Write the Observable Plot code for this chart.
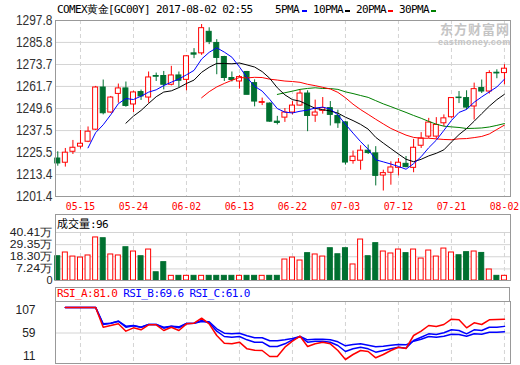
<!DOCTYPE html>
<html><head><meta charset="utf-8">
<script src="https://cdn.jsdelivr.net/npm/d3@7"></script>
<script src="https://cdn.jsdelivr.net/npm/@observablehq/plot@0.6"></script>
<style>
html,body{margin:0;padding:0;background:#fff;}
#wrap{position:relative;width:520px;height:365px;overflow:hidden;background:#fff;}
#wrap > svg{position:absolute;left:0;top:0;}
.t{position:absolute;white-space:nowrap;font-family:"DejaVu Sans Mono",monospace;font-size:11px;letter-spacing:-0.6px;line-height:12px;color:#000;}
.sw{position:absolute;width:5px;height:2px;}
.wm{position:absolute;white-space:nowrap;color:#c4c4c4;font-weight:bold;}
#pmain g[aria-label="y-axis tick label"] text{font-family:"Liberation Sans",sans-serif;font-size:14px;}
#pmain g[aria-label="x-axis tick label"] text{font-family:"DejaVu Sans Mono",monospace;font-size:10.5px;}
#pvol g[aria-label="y-axis tick label"] text{font-family:"Liberation Sans",sans-serif;font-size:11px;}
#prsi g[aria-label="y-axis tick label"] text{font-family:"Liberation Sans",sans-serif;font-size:12px;}
</style></head>
<body><div id="wrap">
<div class="t" style="left:57px;top:4px;">COMEX黄金[GC00Y] 2017-08-02 02:55</div>
<div class="t" style="left:275px;top:4px;">5PMA</div><div class="sw" style="left:302px;top:10px;background:#0000ff"></div>
<div class="t" style="left:313px;top:4px;">10PMA</div><div class="sw" style="left:345px;top:10px;background:#000"></div>
<div class="t" style="left:356px;top:4px;">20PMA</div><div class="sw" style="left:388px;top:10px;background:#ff0000"></div>
<div class="t" style="left:399px;top:4px;">30PMA</div><div class="sw" style="left:431px;top:10px;background:#008000"></div>
<div class="wm" style="left:440px;top:22px;font-size:13px;letter-spacing:1px;font-family:'Noto Sans CJK SC',sans-serif;line-height:14px;">东方财富网</div>
<div class="wm" style="left:438px;top:38px;font-size:9px;font-family:'Liberation Sans',sans-serif;letter-spacing:0.4px;line-height:9px;">eastmoney.com</div>
<div class="t" style="left:57px;top:217px;"><span style="font-family:'Noto Sans CJK SC',sans-serif;font-size:11px;letter-spacing:0;">成交量</span>:96</div>
<div style="position:absolute;left:55px;top:287px;width:455px;height:14px;box-sizing:border-box;border:1px solid #999;border-bottom:none;"></div>
<div class="t" style="left:57px;top:288px;"><span style="color:#ff0000">RSI_A:81.0</span> <span style="color:#0000ff">RSI_B:69.6</span> <span style="color:#0000ff">RSI_C:61.0</span></div>
</div>
<script>
// ---- data ----
const tickIndex = [3, 10, 17, 24, 31, 38, 45, 52, 59];
const tickLabels = ["05-15","05-24","06-02","06-13","06-22","07-03","07-12","07-21","08-02"];
const priceTicks = [1297.8, 1285.8, 1273.7, 1261.7, 1249.6, 1237.5, 1225.5, 1213.4, 1201.4];
const volTicks = [40.41, 29.35, 18.30, 7.24];
const rsiTicks = [107, 59, 11];

const open = [1222.2,1219.9,1225.9,1228.7,1231.4,1238.0,1261.1,1247.4,1257.6,1260.6,
1251.8,1258.6,1255.6,1267.4,1267.4,1262.6,1267.7,1265.3,1279.8,1279.8,
1291.6,1285.5,1277.8,1266.3,1264.4,1269.6,1263.5,1252.7,1252.3,1242.4,
1244.6,1247.4,1251.2,1257.8,1245.7,1248.3,1249.8,1245.5,1242.0,1220.8,
1221.0,1226.5,1225.0,1212.9,1214.4,1217.1,1219.3,1217.1,1229.2,1234.2,
1234.2,1241.5,1244.8,1255.6,1255.3,1250.7,1260.8,1258.9,1269.2,1269.0];
const high = [1225.9,1227.7,1232.1,1237.6,1239.5,1261.7,1265.2,1256.2,1263.0,1264.1,
1259.1,1259.7,1269.6,1269.0,1269.9,1272.7,1269.6,1278.5,1282.4,1295.6,
1293.8,1287.3,1278.2,1269.6,1267.7,1269.9,1265.3,1255.3,1252.7,1245.3,
1249.6,1253.4,1259.7,1259.3,1254.2,1255.6,1253.4,1248.7,1242.4,1226.3,
1229.2,1229.6,1228.7,1215.8,1220.4,1222.2,1223.3,1232.7,1236.4,1244.2,
1244.6,1246.1,1255.6,1258.9,1259.3,1263.5,1265.2,1270.3,1270.8,1273.6];
const low = [1218.0,1217.5,1224.4,1227.4,1230.9,1237.6,1246.1,1247.0,1252.5,1250.3,
1247.4,1254.0,1252.5,1264.4,1259.8,1262.0,1261.1,1259.3,1276.9,1278.7,
1284.6,1268.1,1264.4,1264.1,1260.2,1257.1,1250.5,1251.2,1242.0,1240.6,
1242.0,1246.1,1250.9,1236.9,1242.0,1246.5,1240.0,1238.7,1218.6,1219.1,
1215.8,1224.4,1207.2,1204.4,1207.6,1212.7,1217.1,1214.4,1227.7,1233.2,
1232.9,1239.7,1244.2,1252.3,1248.8,1243.3,1257.8,1257.5,1265.9,1262.6];
const close = [1219.5,1225.4,1228.1,1230.3,1236.9,1261.1,1247.0,1255.6,1260.6,1251.0,
1258.4,1256.2,1266.6,1267.0,1262.6,1267.7,1264.8,1278.2,1279.1,1293.6,
1286.1,1277.3,1266.3,1265.2,1266.8,1257.1,1253.4,1253.1,1242.4,1241.7,
1247.4,1251.2,1257.8,1245.5,1247.4,1249.8,1246.1,1241.5,1220.0,1223.2,
1226.5,1225.2,1212.7,1214.2,1217.3,1219.9,1217.5,1228.1,1233.2,1241.9,
1240.6,1244.2,1255.3,1255.3,1250.1,1260.2,1258.9,1269.0,1268.8,1271.4];
// volume in 万
const volume = [18.8,22.2,18.5,17.6,19.5,35.9,35.2,20.4,19.5,27.0,
23.1,18.8,24.9,4.2,13.4,0.95,0.95,0.95,0.95,0.95,
0.95,0.95,0.95,0.95,0.95,0.95,0.95,0.95,0.95,0.95,
15.8,17.6,14.9,21.6,20.4,18.5,26.1,20.6,26.1,11.3,
34.0,18.8,30.7,23.1,21.3,24.9,21.6,24.9,16.7,24.0,
18.5,25.8,22.2,19.7,22.5,23.1,21.8,6.7,0.95,0.95];
const rsiA = [null,100,100,100,100,100,68.3,71.0,73.7,61.9,
67.3,64.1,72.1,72.1,63.0,68.3,63.0,73.7,74.7,82.7,
73.7,55.0,42.7,41.7,44.3,33.7,31.5,31.0,21.4,21.4,
36.3,45.9,53.9,37.4,41.7,44.3,41.7,31.0,16.6,24.6,
31.0,29.4,19.3,24.6,31.0,36.3,34.2,55.0,61.9,71.0,
69.4,72.6,81.1,80.1,67.3,75.3,72.6,80.1,80.6,81.0];
const rsiB = [null,100,100,100,100,100,72.6,74.7,77.9,68.3,
70.5,68.3,72.6,72.6,66.7,69.9,67.3,74.2,74.7,79.0,
75.3,61.9,53.4,52.3,53.4,48.1,44.3,44.3,37.4,37.4,
41.7,48.1,53.4,44.3,45.9,45.9,44.3,39.0,29.4,33.7,
36.3,33.7,28.3,31.0,33.7,36.3,34.7,47.0,52.3,57.7,
56.6,59.3,64.1,63.0,57.7,64.1,63.0,68.3,68.3,69.6];
const rsiC = [null,100,100,100,100,100,73.7,74.7,77.9,69.9,
71.0,68.3,72.6,72.6,68.3,69.9,68.9,74.2,74.7,77.4,
76.9,65.7,58.7,57.7,58.7,54.5,51.3,51.3,46.5,46.5,
48.1,50.2,53.4,48.1,49.1,49.1,48.1,44.9,38.5,40.6,
41.7,39.5,36.9,37.9,39.5,40.6,40.1,45.9,49.1,53.4,
52.3,53.9,57.1,56.6,53.9,57.7,57.1,60.3,60.3,61.0];

// ---- layout / styling ----
const W = 520, H = 365;
const RED = "#ff0000", GREEN = "#007030", BLUE = "#0000ff", GRID = "#d4d4d4", FRAME = "#999";
const xDomain = [-0.3, 59.8];
const volFloor = -3.3, volTop = 56.8;
const rsiDomain = [10.2, 109.4];
const half = 0.33;

const rows = d3.range(open.length).map(i => ({
  i, open: open[i], high: high[i], low: low[i], close: close[i],
  vol: volume[i], up: close[i] >= open[i], a: rsiA[i], b: rsiB[i], c: rsiC[i]
}));
const col = d => d.up ? RED : GREEN;
const fillc = d => d.up ? "#ffffff" : GREEN;
const base = {width: W, height: H, marginLeft: 55, marginRight: 10,
  x: {domain: xDomain, axis: null, label: null}, color: {type: "identity"},
  style: {background: "transparent", overflow: "visible"}};
const ma = (k, stroke) => Plot.lineY(rows, Plot.windowY({k, anchor: "end", strict: true, reduce: "mean"}, {x: "i", y: "close", stroke, strokeWidth: 1}));

const main = Plot.plot({...base, marginTop: 20, marginBottom: H - 196,
  y: {domain: [1201.4, 1297.8], axis: null, label: null},
  marks: [
    Plot.ruleY(priceTicks, {stroke: GRID}),
    Plot.ruleX(tickIndex, {stroke: GRID, strokeDasharray: "4,3"}),
    Plot.ruleX(rows, {x: "i", y1: "low", y2: "high", stroke: col}),
    Plot.rect(rows, {x1: d => d.i - half, x2: d => d.i + half, y1: "open", y2: "close", fill: fillc, stroke: col}),
    ma(30, "#008000"), ma(20, RED), ma(10, "#000000"), ma(5, BLUE),
    Plot.frame({stroke: FRAME}),
    Plot.axisY(priceTicks, {label: null, tickSize: 0, tickPadding: 3, tickFormat: d => d.toFixed(1), fill: "#333"}),
    Plot.axisX(tickIndex, {label: null, tickSize: 0, tickPadding: 6, tickFormat: d => tickLabels[tickIndex.indexOf(d)], fill: RED})
  ]});
main.setAttribute("id", "pmain");

const vol = Plot.plot({...base, marginTop: 214, marginBottom: H - 280,
  y: {domain: [volFloor, volTop], axis: null, label: null},
  marks: [
    Plot.ruleY(volTicks, {stroke: GRID}),
    Plot.ruleX(tickIndex, {y1: volTicks[0], y2: volFloor, stroke: GRID, strokeDasharray: "4,3"}),
    Plot.rect(rows, {x1: d => d.i - half, x2: d => d.i + half, y1: volFloor, y2: "vol", fill: fillc, stroke: col}),
    Plot.frame({stroke: FRAME}),
    Plot.axisY(volTicks, {label: null, tickSize: 0, tickPadding: 3, tickFormat: d => d.toFixed(2) + "万", fill: "#222"}),
    Plot.axisY([volFloor], {label: null, tickSize: 0, tickPadding: 3, tickFormat: () => "0", fill: "#222"})
  ]});
vol.setAttribute("id", "pvol");

const rsi = Plot.plot({...base, marginTop: 301, marginBottom: H - 363,
  y: {domain: rsiDomain, axis: null, label: null},
  marks: [
    Plot.ruleY([rsiTicks[1]], {stroke: GRID}),
    Plot.ruleX(tickIndex, {stroke: GRID, strokeDasharray: "4,3"}),
    Plot.lineY(rows, {x: "i", y: "c", stroke: BLUE}),
    Plot.lineY(rows, {x: "i", y: "b", stroke: BLUE}),
    Plot.lineY(rows, {x: "i", y: "a", stroke: RED}),
    Plot.frame({stroke: FRAME}),
    Plot.axisY([rsiTicks[0]], {label: null, tickSize: 0, tickPadding: 20, dy: 7.5, fill: "#222"}),
    Plot.axisY([rsiTicks[1]], {label: null, tickSize: 0, tickPadding: 20, fill: "#222"}),
    Plot.axisY([rsiTicks[2]], {label: null, tickSize: 0, tickPadding: 20, dy: -6.5, fill: "#222"})
  ]});
rsi.setAttribute("id", "prsi");

const wrap = document.getElementById("wrap");
wrap.prepend(rsi); wrap.prepend(vol); wrap.prepend(main);

function squeeze(svg, label, unit) {
  d3.select(svg).selectAll(`g[aria-label="${label}"] text`).each(function() {
    let n = 0; for (const ch of this.textContent) n += ch.charCodeAt(0) > 0x2e80 ? 2 : 1;
    this.setAttribute("textLength", n * unit);
    this.setAttribute("lengthAdjust", "spacingAndGlyphs");
  });
}
squeeze(main, "y-axis tick label", 6.1);
squeeze(main, "x-axis tick label", 5.9);
squeeze(vol, "y-axis tick label", 6.1);
</script>
</body></html>
